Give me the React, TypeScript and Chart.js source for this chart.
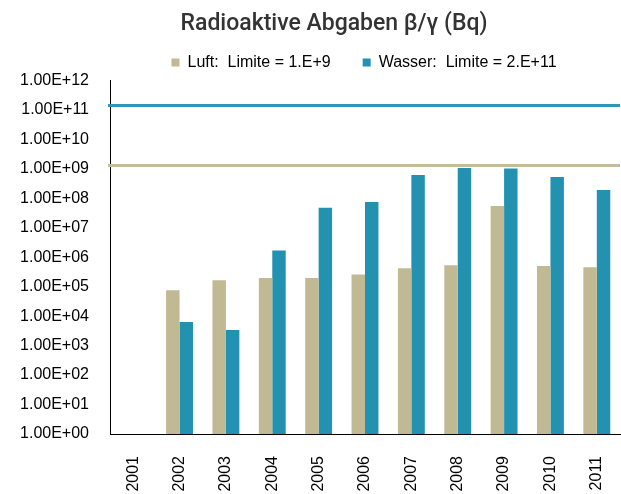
import React, { useEffect, useRef } from 'react';
import { Chart, registerables } from 'chart.js';

Chart.register(...registerables);

const chartTitle = 'Radioaktive Abgaben β/γ (Bq)';
const years = ['2001', '2002', '2003', '2004', '2005', '2006', '2007', '2008', '2009', '2010', '2011'];
const seriesLabels = ['Luft:  Limite = 1.E+9', 'Wasser:  Limite = 2.E+11'];
const luftValues = [null, 7.6e4, 1.66e5, 1.95e5, 1.95e5, 2.6e5, 4.2e5, 5.3e5, 5.5e7, 5.0e5, 4.6e5];
const wasserValues = [null, 6.3e3, 3.4e3, 1.7e6, 4.8e7, 7.5e7, 6.2e8, 1.07e9, 1.02e9, 5.3e8, 1.9e8];
const limitValues = [1.3e9, 1.4e11];
const limitColors = ['#C4BC9A', '#2E97B5'];
const yTickValues = [1, 1e1, 1e2, 1e3, 1e4, 1e5, 1e6, 1e7, 1e8, 1e9, 1e10, 1e11, 1e12];

const LUFT = '#C1B993';
const WASSER = '#2392B0';
const FONT = 'Liberation Sans, Arial, sans-serif';

function fmtExp(v: number): string {
  const e = Math.round(Math.log10(v));
  return '1.00E+' + String(e).padStart(2, '0');
}

const shiftPlugin = {
  id: 'shiftBoxes',
  afterLayout(chart: any) {
    const t = chart.titleBlock;
    if (t) { t.left += 24; t.right += 24; }
    const l = chart.legend;
    if (l) { l.left += 54; l.right += 54; }
  },
};

// Horizontal limit lines, positioned through the chart's own y scale
const limitLinesPlugin = {
  id: 'limitLines',
  afterDatasetsDraw(chart: any) {
    const { ctx, chartArea, scales } = chart;
    ctx.save();
    limitValues.forEach((v, i) => {
      const y = scales.y.getPixelForValue(v);
      ctx.beginPath();
      ctx.strokeStyle = limitColors[i];
      ctx.lineWidth = 3;
      ctx.moveTo(chartArea.left - 2, y);
      ctx.lineTo(chartArea.right, y);
      ctx.stroke();
    });
    ctx.restore();
  },
};

export default function App() {
  const ref = useRef<HTMLCanvasElement>(null);
  useEffect(() => {
    if (!ref.current) return;
    const chart = new Chart(ref.current, {
      type: 'bar',
      data: {
        labels: years,
        datasets: [
          { label: seriesLabels[0], data: luftValues as any, backgroundColor: LUFT, borderWidth: 0, categoryPercentage: 0.58, barPercentage: 1 },
          { label: seriesLabels[1], data: wasserValues as any, backgroundColor: WASSER, borderWidth: 0, categoryPercentage: 0.58, barPercentage: 1 },
        ],
      },
      options: {
        responsive: false,
        animation: false,
        devicePixelRatio: 1,
        layout: { padding: { left: 0, right: 1, top: 0, bottom: 0 } },
        plugins: {
          title: {
            display: true,
            text: chartTitle,
            color: '#333333',
            font: { family: 'Roboto', size: 23, weight: '500' as any },
            padding: { top: 10, bottom: -15.2 },
          },
          legend: {
            display: true,
            position: 'top',
            maxHeight: 59.6,
            labels: {
              boxWidth: 8,
              boxHeight: 8,
              padding: 32,
              color: '#000000',
              font: { family: FONT, size: 16 },
            },
          },
          tooltip: { enabled: false },
        },
        scales: {
          x: {
            type: 'category',
            offset: true,
            grid: { display: false, drawTicks: false },
            border: { display: true, color: '#000000', width: 1 },
            afterFit: (scale: any) => {
              scale.height = 60;
              scale.paddingLeft = 0;
              scale.paddingRight = 0;
            },
            ticks: {
              color: '#000000',
              font: { family: FONT, size: 16 },
              minRotation: 90,
              maxRotation: 90,
              padding: 22,
              autoSkip: false,
            },
          },
          y: {
            type: 'logarithmic',
            min: 1,
            max: 1e12,
            grid: { display: false, drawTicks: false },
            border: { display: true, color: '#000000', width: 1 },
            afterBuildTicks: (scale: any) => {
              scale.ticks = yTickValues.map((v) => ({ value: v }));
            },
            afterFit: (scale: any) => {
              scale.width = 110;
            },
            ticks: {
              color: '#000000',
              font: { family: FONT, size: 16 },
              padding: 21,
              callback: (v: any) => fmtExp(Number(v)),
            },
          },
        },
      },
      plugins: [shiftPlugin, limitLinesPlugin],
    });
    return () => chart.destroy();
  }, []);
  return (
    <canvas
      ref={ref}
      width={621}
      height={494}
      style={{ position: 'fixed', left: 0, top: 0, width: 621, height: 494, background: '#ffffff' }}
    />
  );
}
